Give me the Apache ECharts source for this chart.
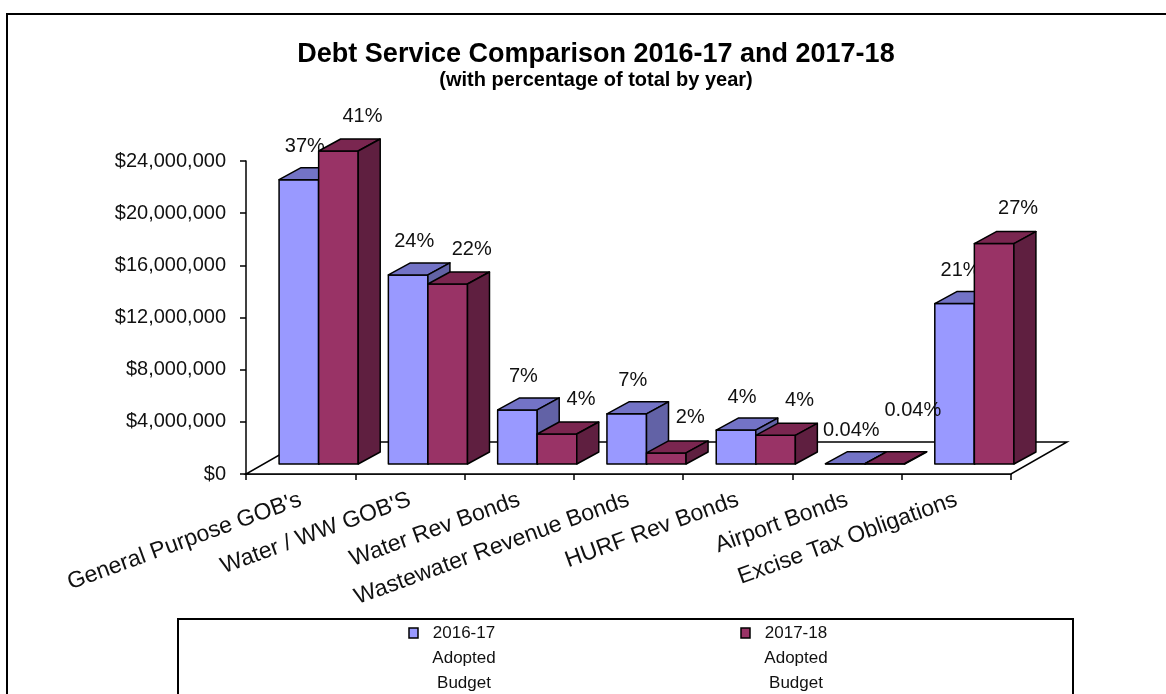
<!DOCTYPE html>
<html>
<head>
<meta charset="utf-8">
<script src="https://cdn.jsdelivr.net/npm/echarts@6/dist/echarts.min.js"></script>
<style>
html,body{margin:0;padding:0;background:#fff;}
#chart{width:1166px;height:694px;}
</style>
</head>
<body>
<div id="chart"></div>
<script>
// ---- data ----
const categories = ["General Purpose GOB's", "Water / WW GOB'S", "Water Rev Bonds", "Wastewater Revenue Bonds", "HURF Rev Bonds", "Airport Bonds", "Excise Tax Obligations"];
const budget1617 = [21800000, 14500000, 4150000, 3850000, 2600000, 25000, 12300000];
const budget1718 = [24000000, 13800000, 2300000, 850000, 2200000, 25000, 16900000];
const pct1617 = ['37%', '24%', '7%', '7%', '4%', '0.04%', '21%'];
const pct1718 = ['41%', '22%', '4%', '2%', '4%', '0.04%', '27%'];
const seriesLegend = [['2016-17', 'Adopted', 'Budget'], ['2017-18', 'Adopted', 'Budget']];
const titleText = 'Debt Service Comparison 2016-17 and 2017-18';
const subtitleText = '(with percentage of total by year)';

// ---- styles ----
const FONT = '"Liberation Sans", Arial, sans-serif';
const faces = [
  {front: '#9999FF', top: '#7373C6', side: '#6262A6'},
  {front: '#993366', top: '#7A2650', side: '#5F1F40'}
];
const FRONT_DX = 18, FRONT_DY = -10;   // bar front plane offset from floor front edge
const DEPTH_DX = 22, DEPTH_DY = -12;   // bar depth
const FLOOR_DX = 56, FLOOR_DY = -32;   // floor depth
const BAR_FRAC = 0.362;
const LABEL_OFF = [[6, -33], [24, -35]];
const LABEL_FONT = 20;

const chart = echarts.init(document.getElementById('chart'), null, {renderer: 'canvas'});

function barRender(s) {
  const other = s === 0 ? budget1718 : budget1617;
  const pcts = s === 0 ? pct1617 : pct1718;
  const otherPcts = s === 0 ? pct1718 : pct1617;
  return function (params, api) {
    const i = api.value(0), v = api.value(1);
    const top = api.coord([i, v]);
    const base = api.coord([i, 0]);
    const band = api.size([1, 0])[0];
    const w = band * BAR_FRAC;
    const cx = base[0] + FRONT_DX;
    const x0 = s === 0 ? cx - w : cx;
    const x1 = x0 + w;
    const yb = base[1] + FRONT_DY;
    const yt = top[1] + FRONT_DY;
    const f = faces[s];
    const ls = {stroke: '#000', lineWidth: 1.5, lineJoin: 'round'};
    let lx = (x0 + x1) / 2 + LABEL_OFF[s][0];
    let ly = yt + LABEL_OFF[s][1];
    if (s === 1) {
      // keep clear of the neighbouring 2016-17 label
      const oTop = api.coord([i, other[i]])[1] + FRONT_DY;
      const ox = (cx - w + cx) / 2 + LABEL_OFF[0][0];
      const oy = oTop + LABEL_OFF[0][1];
      const wA = pcts[i].length * 12, wB = otherPcts[i].length * 12;
      if (Math.abs(lx - ox) < (wA + wB) / 2 && Math.abs(ly - oy) < 20) {
        ly = oy - 20;
        lx += 4;
      }
    }
    return {
      type: 'group',
      children: [
        {type: 'polygon', shape: {points: [[x0, yb], [x1, yb], [x1, yt], [x0, yt]]}, style: Object.assign({fill: f.front}, ls)},
        {type: 'polygon', shape: {points: [[x0, yt], [x1, yt], [x1 + DEPTH_DX, yt + DEPTH_DY], [x0 + DEPTH_DX, yt + DEPTH_DY]]}, style: Object.assign({fill: f.top}, ls)},
        {type: 'polygon', shape: {points: [[x1, yt], [x1 + DEPTH_DX, yt + DEPTH_DY], [x1 + DEPTH_DX, yb + DEPTH_DY], [x1, yb]]}, style: Object.assign({fill: f.side}, ls)},
        {type: 'text', x: lx, y: ly, style: {text: pcts[i], fill: '#111', font: LABEL_FONT + 'px ' + FONT, textAlign: 'center', textVerticalAlign: 'middle'}}
      ]
    };
  };
}

function floorRender(params, api) {
  const n = categories.length;
  const band = api.size([1, 0])[0];
  const p0 = api.coord([0, 0]);
  const pn = api.coord([n - 1, 0]);
  const xl = p0[0] - band / 2, xr = pn[0] + band / 2, y = p0[1];
  return {
    type: 'polygon',
    shape: {points: [[xl, y], [xr, y], [xr + FLOOR_DX, y + FLOOR_DY], [xl + FLOOR_DX, y + FLOOR_DY]]},
    style: {fill: '#fff', stroke: '#000', lineWidth: 1.5}
  };
}

const legendItems = [];
const legendX = [414, 746];
seriesLegend.forEach(function (lines, k) {
  legendItems.push({type: 'rect', shape: {x: legendX[k] - 5, y: 628, width: 9, height: 10}, style: {fill: faces[k].front, stroke: '#000', lineWidth: 1.5}, z: 10});
  legendItems.push({type: 'text', x: legendX[k] + 50, y: 621, style: {text: lines.join('\n'), font: '17px ' + FONT, fill: '#111', textAlign: 'center', lineHeight: 25}, z: 10});
});

const option = {
  animation: false,
  backgroundColor: '#fff',
  title: {
    text: titleText,
    subtext: subtitleText,
    left: 591,
    textAlign: 'center',
    top: 36,
    itemGap: 2,
    textStyle: {fontFamily: FONT, fontSize: 27, fontWeight: 'bold', color: '#000'},
    subtextStyle: {fontFamily: FONT, fontSize: 20, fontWeight: 'bold', color: '#000'}
  },
  grid: {left: 246, right: 155, top: 161, bottom: 220, containLabel: false},
  xAxis: {
    type: 'category',
    data: categories,
    axisLine: {show: true, lineStyle: {color: '#000', width: 1.5}},
    axisTick: {show: true, alignWithLabel: false, length: 6, lineStyle: {color: '#000', width: 1.5}},
    axisLabel: {interval: 0, rotate: 20, margin: 25, fontFamily: FONT, fontSize: 23, color: '#111'},
    splitLine: {show: false}
  },
  yAxis: {
    type: 'value',
    min: 0, max: 24000000, interval: 4000000,
    axisLine: {show: true, lineStyle: {color: '#000', width: 1.5}},
    axisTick: {show: true, length: 6, lineStyle: {color: '#000', width: 1.5}},
    axisLabel: {margin: 20, fontFamily: FONT, fontSize: 20, color: '#111',
      formatter: function (v) { return '$' + v.toLocaleString('en-US'); }},
    splitLine: {show: false}
  },
  series: [
    {type: 'custom', name: 'floor', data: [[0, 0]], renderItem: floorRender, z: 1, silent: true},
    {type: 'custom', name: seriesLegend[0].join(' '), data: budget1617.map(function (v, i) { return [i, v]; }), renderItem: barRender(0), z: 3},
    {type: 'custom', name: seriesLegend[1].join(' '), data: budget1718.map(function (v, i) { return [i, v]; }), renderItem: barRender(1), z: 4}
  ],
  graphic: [
    {type: 'rect', shape: {x: 7, y: 14, width: 1200, height: 720}, style: {fill: 'none', stroke: '#000', lineWidth: 2}, z: 0, silent: true},
    {type: 'rect', shape: {x: 178, y: 619, width: 895, height: 120}, style: {fill: '#fff', stroke: '#000', lineWidth: 2}, z: 9, silent: true}
  ].concat(legendItems)
};
chart.setOption(option);
</script>
</body>
</html>
